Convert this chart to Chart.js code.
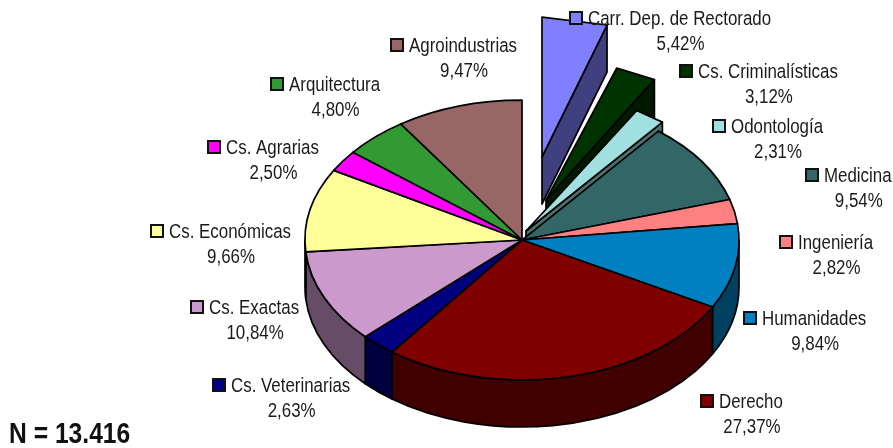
<!DOCTYPE html>
<html>
<head>
<meta charset="utf-8">
<title>Carreras</title>
<script src="https://cdn.jsdelivr.net/npm/chart.js@4"></script>
<style>
  html, body { margin: 0; padding: 0; background: #fff; }
  #wrap { width: 893px; height: 448px; }
</style>
</head>
<body>
<div id="wrap"><canvas id="pie"></canvas></div>
<script>
const categories = ["Carr. Dep. de Rectorado", "Cs. Criminalísticas", "Odontología", "Medicina", "Ingeniería", "Humanidades", "Derecho", "Cs. Veterinarias", "Cs. Exactas", "Cs. Económicas", "Cs. Agrarias", "Arquitectura", "Agroindustrias"];
const shares = [5.42, 3.12, 2.31, 9.54, 2.82, 9.84, 27.37, 2.63, 10.84, 9.66, 2.50, 4.80, 9.47];
const shareLabels = ["5,42%", "3,12%", "2,31%", "9,54%", "2,82%", "9,84%", "27,37%", "2,63%", "10,84%", "9,66%", "2,50%", "4,80%", "9,47%"];
const topColors = ["#8080ff", "#003300", "#a0e0e0", "#336666", "#ff8080", "#0080c0", "#800000", "#000080", "#cc99cc", "#ffff99", "#ff00ff", "#339933", "#996666"];
const wallColors = ["#404080", "#001a00", "#507070", "#1a3333", "#804040", "#004060", "#400000", "#000040", "#664c66", "#80804c", "#800080", "#1a4d1a", "#4c3333"];

// layout of the 3d look and the labels, in pixels
const TILT = 0.645;
const DEPTH = 47;
const RADIUS = 217;
const pulled = { 0: { dx: 20, dy: -83, k: 0.9 }, 1: { dx: 24, dy: -40, k: 0.98 }, 2: { dx: 4, dy: -9, k: 1 } };
const keyX = [570, 680, 713, 806, 780, 744, 701, 213, 191, 151, 208, 271, 391];
const keyY = [18, 71, 126, 175, 242, 318, 401, 385, 307, 231, 147, 84, 45];

// no narrow face is installed, so the text is squeezed by hand
const FONT = '"Liberation Sans", Arial, sans-serif';
const NARROW = 0.824;

function edgeAt(cx, cy, rx, a) {
  return [cx + rx * Math.cos(a), cy + RADIUS * TILT * Math.sin(a)];
}

function drawOuterWall(ctx, cx, cy, rx, a0, a1, color) {
  // only the front half of the rim can be seen
  const from = Math.max(a0, 0);
  const to = Math.min(a1, Math.PI);
  if (to <= from) return;
  ctx.beginPath();
  ctx.ellipse(cx, cy, rx, RADIUS * TILT, 0, from, to);
  ctx.ellipse(cx, cy + DEPTH, rx, RADIUS * TILT, 0, to, from, true);
  ctx.closePath();
  ctx.fillStyle = color;
  ctx.fill();
  ctx.stroke();
}

function drawPulledSlice(ctx, arc, i) {
  const p = pulled[i];
  const cx = arc.x + p.dx;
  const cy = arc.y + p.dy;
  const rx = arc.outerRadius * p.k;
  const start = edgeAt(cx, cy, rx, arc.startAngle);
  const end = edgeAt(cx, cy, rx, arc.endAngle);
  // cut face on the clockwise side
  ctx.beginPath();
  ctx.moveTo(end[0], end[1]);
  ctx.lineTo(end[0], end[1] + DEPTH);
  ctx.lineTo(cx, cy + DEPTH);
  ctx.lineTo(cx, cy);
  ctx.closePath();
  ctx.fillStyle = wallColors[i];
  ctx.fill();
  ctx.stroke();
  // these small slices have a straight rim in the picture
  ctx.beginPath();
  ctx.moveTo(cx, cy);
  ctx.lineTo(start[0], start[1]);
  ctx.lineTo(end[0], end[1]);
  ctx.closePath();
  ctx.fillStyle = topColors[i];
  ctx.fill();
  ctx.stroke();
}

function narrowText(ctx, text, x, y, squeeze) {
  ctx.save();
  ctx.translate(x, y);
  ctx.scale(squeeze, 1);
  ctx.fillText(text, 0, 0);
  ctx.restore();
}

const tiltedPie = {
  id: "tiltedPie",
  beforeDatasetsDraw(chart) {
    const ctx = chart.ctx;
    const arcs = chart.getDatasetMeta(0).data;
    ctx.save();
    ctx.strokeStyle = "#000";
    ctx.lineWidth = 1.7;
    ctx.lineJoin = "round";
    arcs.forEach((arc, i) => { if (pulled[i]) drawPulledSlice(ctx, arc, i); });
    arcs.forEach((arc, i) => {
      if (!pulled[i]) drawOuterWall(ctx, arc.x, arc.y, arc.outerRadius, arc.startAngle, arc.endAngle, wallColors[i]);
    });
    arcs.forEach((arc, i) => {
      if (pulled[i]) return;
      ctx.beginPath();
      ctx.moveTo(arc.x, arc.y);
      ctx.ellipse(arc.x, arc.y, arc.outerRadius, RADIUS * TILT, 0, arc.startAngle, arc.endAngle);
      ctx.closePath();
      ctx.fillStyle = topColors[i];
      ctx.fill();
      ctx.stroke();
    });
    ctx.restore();
    return false;
  },
  afterDraw(chart) {
    const ctx = chart.ctx;
    ctx.save();
    ctx.textBaseline = "middle";
    categories.forEach((name, i) => {
      ctx.fillStyle = topColors[i];
      ctx.strokeStyle = "#111";
      ctx.lineWidth = 2;
      ctx.fillRect(keyX[i], keyY[i] - 6, 12, 12);
      ctx.strokeRect(keyX[i], keyY[i] - 6, 12, 12);
      ctx.font = "20.5px " + FONT;
      ctx.fillStyle = "#1a1a1a";
      ctx.textAlign = "left";
      const textX = keyX[i] + 18;
      narrowText(ctx, name, textX, keyY[i] + 1, NARROW);
      ctx.textAlign = "center";
      const mid = textX + ctx.measureText(name).width * NARROW / 2;
      narrowText(ctx, shareLabels[i], mid + 1, keyY[i] + 26, NARROW);
    });
    ctx.textAlign = "left";
    ctx.fillStyle = "#111";
    ctx.font = "bold 29px " + FONT;
    narrowText(ctx, "N = 13.416", 9, 435, 0.85);
    ctx.restore();
  },
};

new Chart(document.getElementById("pie"), {
  type: "pie",
  data: {
    labels: categories,
    datasets: [{ data: shares, backgroundColor: topColors, borderWidth: 0 }],
  },
  options: {
    responsive: true,
    maintainAspectRatio: false,
    animation: false,
    radius: RADIUS,
    layout: { padding: { left: 151, top: 32 } },
    plugins: { legend: { display: false }, tooltip: { enabled: false } },
  },
  plugins: [tiltedPie],
});
</script>
</body>
</html>
